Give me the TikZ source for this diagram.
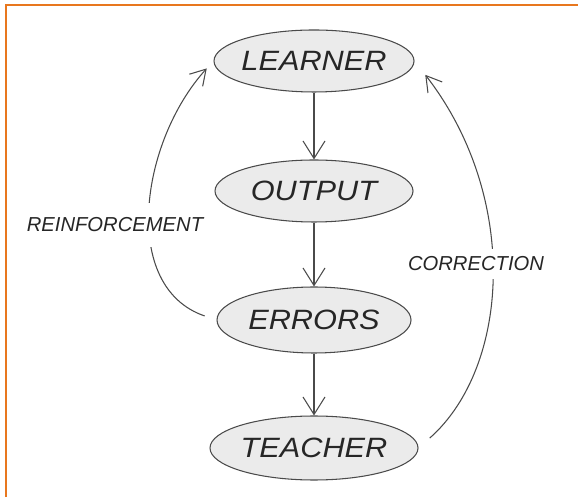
\documentclass[tikz,border=0pt]{standalone}
\usepackage{fontspec}
\setmainfont{Liberation Sans}
\newfontfamily\sketchfont[FakeStretch=1.1]{Liberation Sans}
\definecolor{Frame}{HTML}{E8771E}
\definecolor{Ink}{HTML}{4A4A4A}
\definecolor{Blob}{HTML}{EBEBEB}
\usetikzlibrary{arrows.meta, shapes.geometric}

\tikzset{
  blob/.style={ellipse, draw=Ink, fill=Blob, line width=0.6pt, inner sep=0pt},
  word/.style={font=\sketchfont\itshape\fontsize{15.9}{18}\selectfont, text=black!85},
  flow/.style={draw=Ink, line width=0.6pt, -{Straight Barb[length=3.5mm,width=4.4mm]}},
  feedback/.style={draw=Ink, line width=0.6pt, -{Straight Barb[length=3mm,width=3.6mm]}},
  tag/.style={fill=white, inner xsep=1pt, inner ysep=0.2cm, font=\itshape\fontsize{11.5}{13}\selectfont, text=black!85}
}

\begin{document}
\begin{tikzpicture}
\useasboundingbox (0,0) rectangle (11.56,9.94);
\draw[Frame, line width=1.2pt] (0.12,0) -- (0.12,9.84) -- (11.56,9.84);
% ellipses listed top to bottom
\node[blob, minimum width=4cm, minimum height=1.24cm, label={[word]center:LEARNER}] (learner) at (6.28,8.72) {};
\node[blob, minimum width=3.96cm, minimum height=1.24cm, label={[word]center:OUTPUT}] (output) at (6.28,6.12) {};
\node[blob, minimum width=3.88cm, minimum height=1.32cm, label={[word]center:ERRORS}] (errors) at (6.28,3.54) {};
\node[blob, minimum width=4.16cm, minimum height=1.28cm, label={[word]center:TEACHER}] (teacher) at (6.28,0.98) {};
\draw[flow] (learner) -- (output);
\draw[flow] (output) -- (errors);
\draw[flow] (errors) -- (teacher);
\draw[feedback, shorten <=0.25cm, shorten >=0.2cm] (errors.west) .. controls (2.4,4.2) and (2.8,7.1) .. (learner.west);
\draw[feedback, shorten <=0.3cm, shorten >=0.35cm] (teacher.east) .. controls (10.2,2.6) and (10.4,6.0) .. (learner.east);
\node[tag, inner ysep=0.3cm] (reinf) at (2.30,5.44) {REINFORCEMENT};
\node[tag, inner ysep=0.15cm] (corr) at (9.52,4.66) {CORRECTION};
\end{tikzpicture}
\end{document}
